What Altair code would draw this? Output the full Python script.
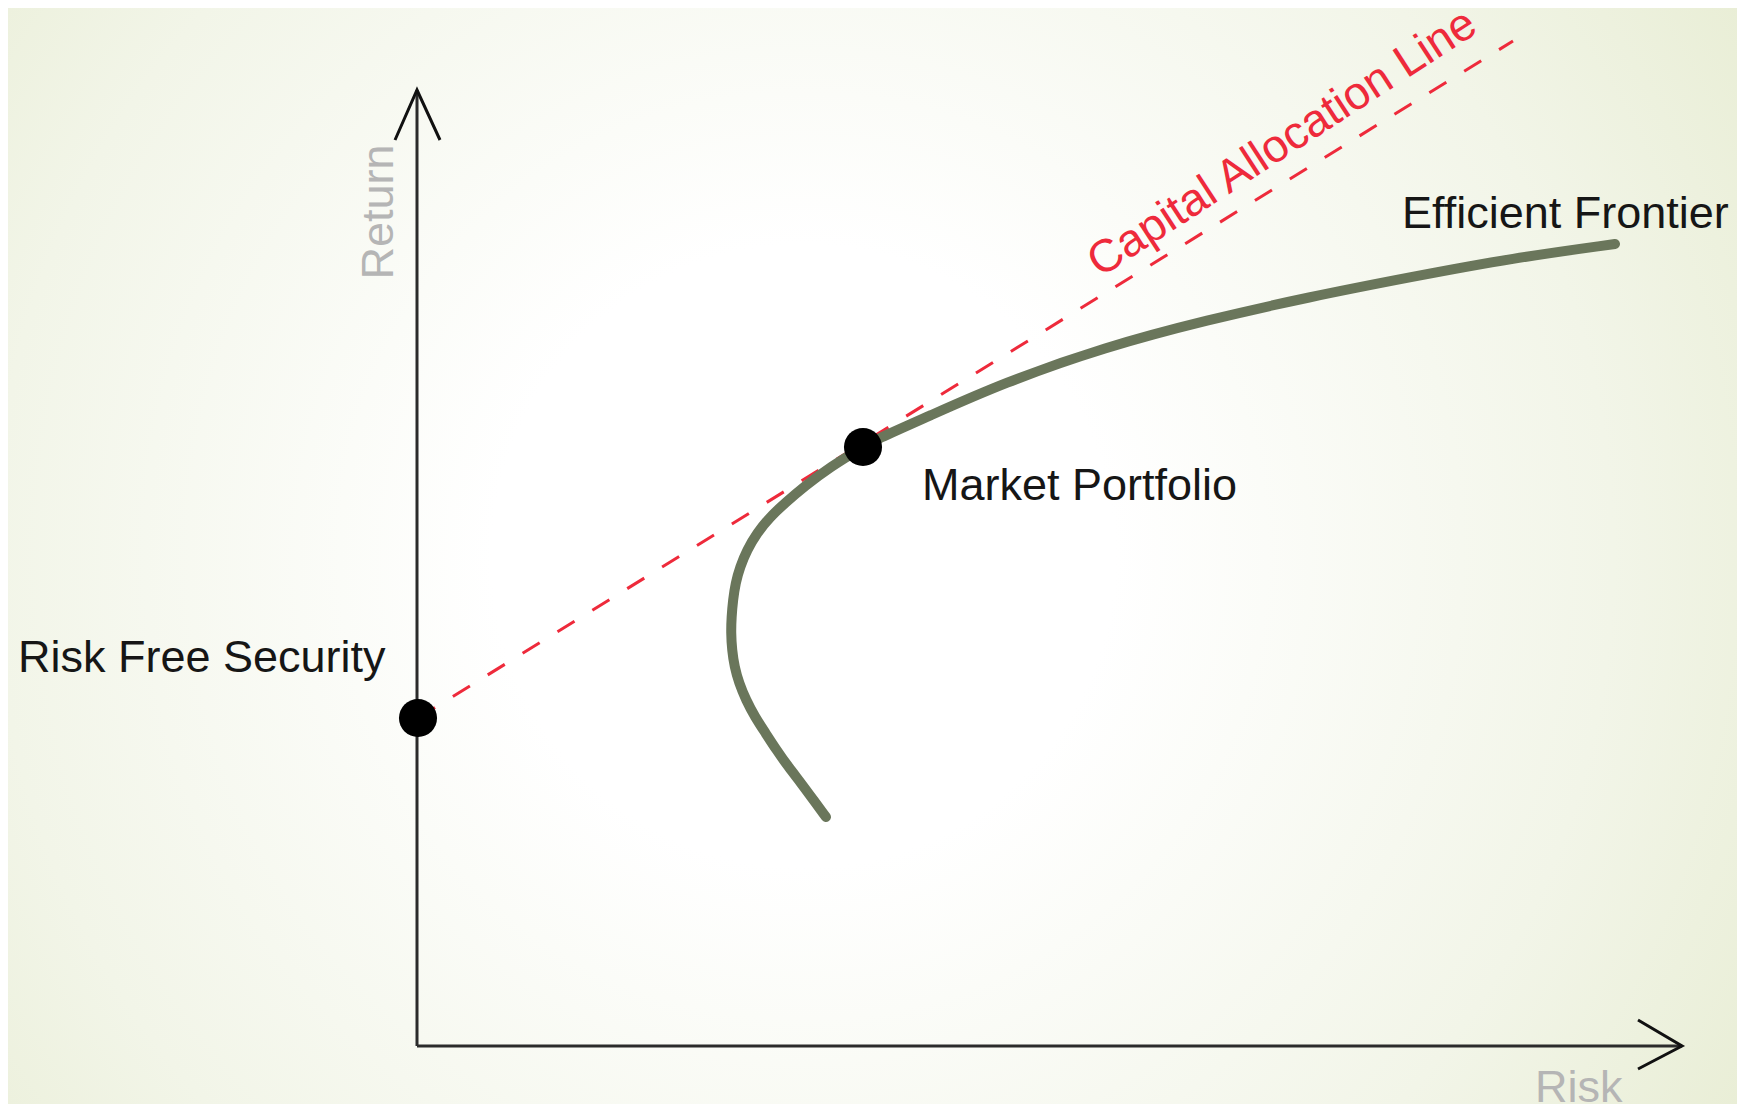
import altair as alt
import pandas as pd

# ---------------- data (risk / return units) ----------------
frontier_risk = [8.18, 7.93, 7.68, 7.43, 7.19, 6.97, 6.76, 6.58, 6.44, 6.35, 6.30, 6.28,
                 6.29, 6.32, 6.37, 6.46, 6.60, 6.80, 7.06, 7.36, 7.76, 8.26, 8.92, 9.16,
                 10.20, 11.72, 13.76, 15.80, 17.84, 19.88, 21.92, 23.96]
frontier_return = [4.58, 4.92, 5.26, 5.58, 5.92, 6.26, 6.58, 6.92, 7.26, 7.58, 7.92, 8.26,
                   8.58, 8.92, 9.26, 9.58, 9.92, 10.26, 10.58, 10.86, 11.20, 11.58, 11.98,
                   12.12, 12.58, 13.26, 13.98, 14.52, 14.98, 15.38, 15.76, 16.04]

cal_risk = [0.02, 21.92]
cal_return = [6.56, 20.10]

point_names = ["Risk Free Security", "Market Portfolio"]
point_risk = [0.02, 8.92]
point_return = [6.56, 11.98]

label_text = ["Risk Free Security", "Market Portfolio", "Efficient Frontier"]
label_risk = [-7.98, 10.10, 19.70]
label_return = [7.48, 10.92, 16.36]

axis_len_risk = 25.30
axis_len_return = 19.12

# ---------------- layout ----------------
W, H = 1729, 1096
X_DOMAIN = [-8.18, 26.4]
Y_DOMAIN = [-1.16, 20.76]
FONT = "Liberation Sans"

xs = alt.Scale(domain=X_DOMAIN, nice=False, zero=False)
ys = alt.Scale(domain=Y_DOMAIN, nice=False, zero=False)


def X(f="x"):
    return alt.X(f"{f}:Q", scale=xs, axis=None)


def Y(f="y"):
    return alt.Y(f"{f}:Q", scale=ys, axis=None)


# background gradient
bg = alt.Chart(pd.DataFrame({"a": [0]})).mark_rect(
    fill=alt.Gradient(
        gradient="radial",
        stops=[
            alt.GradientStop(color="#ffffff", offset=0),
            alt.GradientStop(color="#ffffff", offset=0.25),
            alt.GradientStop(color="#f2f5e8", offset=0.65),
            alt.GradientStop(color="#e4eacc", offset=1),
        ],
        x1=0.46, y1=0.5, r1=0, x2=0.46, y2=0.5, r2=0.72,
    ),
    strokeWidth=0,
).encode(x=alt.value(0), x2=alt.value(W), y=alt.value(0), y2=alt.value(H))

# axes
axes_df = pd.DataFrame({
    "x": [0, 0], "y": [0, 0],
    "x2": [0, axis_len_risk], "y2": [axis_len_return, 0],
})
axes = alt.Chart(axes_df).mark_rule(color="#2b2b2b", strokeWidth=3).encode(
    x=X(), y=Y(), x2="x2:Q", y2="y2:Q"
)

arrow_df = pd.DataFrame({
    "g": ["y", "y", "y", "x", "x", "x"],
    "o": [0, 1, 2, 0, 1, 2],
    "x": [-0.44, 0, 0.46, axis_len_risk - 0.88, axis_len_risk, axis_len_risk - 0.88],
    "y": [axis_len_return - 1.0, axis_len_return, axis_len_return - 1.0, 0.52, 0, -0.46],
})
arrows = alt.Chart(arrow_df).mark_line(color="#111111", strokeWidth=3).encode(
    x=X(), y=Y(), detail="g:N", order="o:Q"
)

# capital allocation line
cal = alt.Chart(pd.DataFrame({"x": cal_risk, "y": cal_return})).mark_line(
    color="#ee2a3b", strokeWidth=3, strokeDash=[20, 21]
).encode(x=X(), y=Y())

# efficient frontier
fr = alt.Chart(pd.DataFrame({
    "x": frontier_risk, "y": frontier_return, "i": list(range(len(frontier_risk)))
})).mark_line(color="#6a765b", strokeWidth=10, strokeCap="round",
              interpolate="basis").encode(x=X(), y=Y(), order="i:Q")

# points
pts = alt.Chart(pd.DataFrame({"x": point_risk, "y": point_return, "name": point_names})).mark_circle(
    color="#000000", opacity=1, size=1450
).encode(x=X(), y=Y())

# labels
labels = alt.Chart(pd.DataFrame({"x": label_risk, "y": label_return, "t": label_text})).mark_text(
    align="left", baseline="alphabetic", font=FONT, fontSize=45, color="#161616"
).encode(x=X(), y=Y(), text="t:N")

cal_label = alt.Chart(pd.DataFrame({"x": [13.66], "y": [15.36], "t": ["Capital Allocation Line"]})).mark_text(
    align="left", baseline="alphabetic", font=FONT, fontSize=46, color="#ee2a3b", angle=327
).encode(x=X(), y=Y(), text="t:N")

ret_label = alt.Chart(pd.DataFrame({"x": [-0.48], "y": [16.68], "t": ["Return"]})).mark_text(
    align="center", baseline="alphabetic", font=FONT, fontSize=45, color="#b5b5b5", angle=270
).encode(x=X(), y=Y(), text="t:N")

risk_label = alt.Chart(pd.DataFrame({"x": [22.36], "y": [-1.12], "t": ["Risk"]})).mark_text(
    align="left", baseline="alphabetic", font=FONT, fontSize=45, color="#b5b5b5"
).encode(x=X(), y=Y(), text="t:N")

chart = alt.layer(
    bg, axes, arrows, cal, fr, pts, labels, cal_label, ret_label, risk_label
).properties(
    width=W, height=H, padding=0, background="#e6ecd4",
    autosize=alt.AutoSizeParams(type="none"),
).configure_view(stroke=None)

chart.save("out.html", embed_options={"renderer": "svg", "actions": False})
